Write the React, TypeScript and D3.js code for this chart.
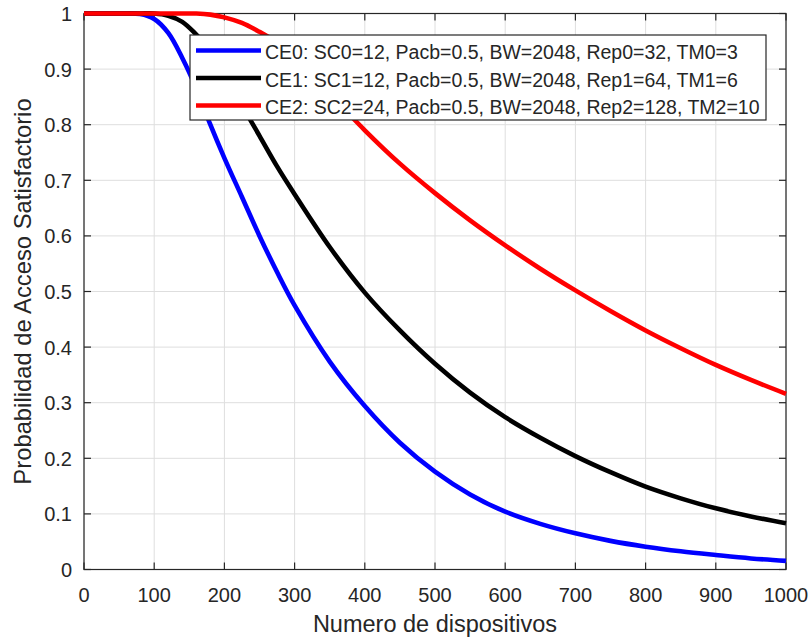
import React from "react";
import * as d3 from "d3";

const xValues = [0, 50, 80, 100, 120, 140, 160, 180, 200, 225, 250, 275, 300, 350, 400, 450, 500, 550, 600, 650, 700, 750, 800, 850, 900, 950, 1000];
const ce0 = [1, 1, 0.999, 0.99, 0.965, 0.92, 0.865, 0.8, 0.74, 0.67, 0.6, 0.535, 0.475, 0.374, 0.294, 0.228, 0.176, 0.135, 0.104, 0.082, 0.065, 0.0515, 0.041, 0.0327, 0.026, 0.0199, 0.0155];
const ce1 = [1, 1, 1, 1, 0.996, 0.985, 0.962, 0.935, 0.895, 0.835, 0.78, 0.725, 0.675, 0.58, 0.498, 0.43, 0.37, 0.318, 0.274, 0.237, 0.204, 0.175, 0.149, 0.128, 0.11, 0.0955, 0.083];
const ce2 = [1, 1, 1, 1, 1, 1, 1, 0.998, 0.993, 0.983, 0.967, 0.948, 0.925, 0.856, 0.79, 0.73, 0.677, 0.628, 0.583, 0.541, 0.502, 0.465, 0.43, 0.398, 0.368, 0.341, 0.316];

const seriesNames = [
  "CE0: SC0=12, Pacb=0.5, BW=2048, Rep0=32, TM0=3",
  "CE1: SC1=12, Pacb=0.5, BW=2048, Rep1=64, TM1=6",
  "CE2: SC2=24, Pacb=0.5, BW=2048, Rep2=128, TM2=10",
];
const seriesColors = ["#0000ff", "#000000", "#ff0000"];
const seriesValues = [ce0, ce1, ce2];

const xTicks = [0, 100, 200, 300, 400, 500, 600, 700, 800, 900, 1000];
const yTicks = [0, 0.1, 0.2, 0.3, 0.4, 0.5, 0.6, 0.7, 0.8, 0.9, 1];

const xLabel = "Numero de dispositivos";
const yLabel = "Probabilidad de Acceso Satisfactorio";

export default function App() {
  const W = 812, H = 641;
  const left = 84, right = 786, top = 13.5, bottom = 569.5;
  const x = d3.scaleLinear().domain([0, 1000]).range([left, right]);
  const y = d3.scaleLinear().domain([0, 1]).range([bottom, top]);
  const axisColor = "#262626";
  const font = "'Liberation Sans', Arial, sans-serif";
  const line = d3
    .line<number>()
    .x((_, i) => x(xValues[i]))
    .y((d) => y(Math.min(1, d)))
    .curve(d3.curveCatmullRom.alpha(0.5));
  const tickLen = 7;

  const legX = 190, legY = 35, legW = 576, legH = 85;
  const rowY = [50.5, 78, 105.5];

  return (
    <svg width={W} height={H} style={{ position: "absolute", left: 0, top: 0, background: "#fff" }} fontFamily={font}>
      <rect x={0} y={0} width={W} height={H} fill="#fff" />
      {xTicks.map((t) => (
        <line key={"gx" + t} x1={x(t)} x2={x(t)} y1={top} y2={bottom} stroke="#dedede" strokeWidth={1} />
      ))}
      {yTicks.map((t) => (
        <line key={"gy" + t} x1={left} x2={right} y1={y(t)} y2={y(t)} stroke="#dedede" strokeWidth={1} />
      ))}
      <rect x={left} y={top} width={right - left} height={bottom - top} fill="none" stroke={axisColor} strokeWidth={1.2} />
      {xTicks.map((t) => (
        <g key={"tx" + t}>
          <line x1={x(t)} x2={x(t)} y1={bottom} y2={bottom - tickLen} stroke={axisColor} strokeWidth={1.2} />
          <line x1={x(t)} x2={x(t)} y1={top} y2={top + tickLen} stroke={axisColor} strokeWidth={1.2} />
          <text x={x(t)} y={601.5} textAnchor="middle" fontSize={20} fill={axisColor}>
            {t}
          </text>
        </g>
      ))}
      {yTicks.map((t) => (
        <g key={"ty" + t}>
          <line x1={left} x2={left + tickLen} y1={y(t)} y2={y(t)} stroke={axisColor} strokeWidth={1.2} />
          <line x1={right} x2={right - tickLen} y1={y(t)} y2={y(t)} stroke={axisColor} strokeWidth={1.2} />
          <text x={72} y={y(t) + 7.5} textAnchor="end" fontSize={20} fill={axisColor}>
            {d3.format("~g")(t)}
          </text>
        </g>
      ))}
      {seriesValues.map((vals, i) => (
        <path key={"s" + i} d={line(vals) || ""} fill="none" stroke={seriesColors[i]} strokeWidth={4.6} strokeLinejoin="round" />
      ))}
      <text x={(left + right) / 2} y={631.5} textAnchor="middle" fontSize={23.5} fill={axisColor}>
        {xLabel}
      </text>
      <text
        transform={`translate(31, ${(top + bottom) / 2}) rotate(-90)`}
        textAnchor="middle"
        fontSize={23.8}
        fill={axisColor}
      >
        {yLabel}
      </text>
      <rect x={legX} y={legY} width={legW} height={legH} fill="#fff" stroke={axisColor} strokeWidth={1.2} />
      {seriesNames.map((name, i) => (
        <g key={"l" + i}>
          <line x1={196} x2={261} y1={rowY[i]} y2={rowY[i]} stroke={seriesColors[i]} strokeWidth={4.6} />
          <text x={265} y={rowY[i] + 8.5} fontSize={19.5} fill={axisColor}>
            {name}
          </text>
        </g>
      ))}
    </svg>
  );
}
